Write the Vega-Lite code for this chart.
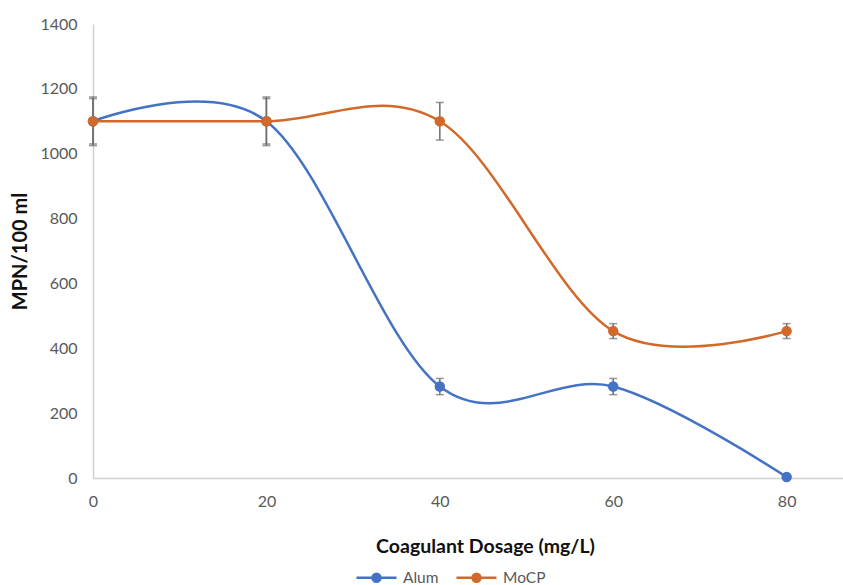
{
  "$schema": "https://vega.github.io/schema/vega-lite/v6.json",
  "width": 750,
  "height": 454,
  "autosize": {"type": "none"},
  "padding": {"left": 93, "top": 24, "right": 0, "bottom": 107},
  "config": {"view": {"stroke": null}, "font": "Lato"},
  "data": {
    "values": [
      {"series": "Alum", "dose": 0, "mpn": 1100, "lo": 1025, "hi": 1175},
      {"series": "Alum", "dose": 20, "mpn": 1100, "lo": 1025, "hi": 1175},
      {"series": "Alum", "dose": 40, "mpn": 282, "lo": 257, "hi": 307},
      {"series": "Alum", "dose": 60, "mpn": 282, "lo": 257, "hi": 307},
      {"series": "Alum", "dose": 80, "mpn": 3, "lo": 3, "hi": 3},
      {"series": "MoCP", "dose": 0, "mpn": 1100, "lo": 1030, "hi": 1170},
      {"series": "MoCP", "dose": 20, "mpn": 1100, "lo": 1030, "hi": 1170},
      {"series": "MoCP", "dose": 40, "mpn": 1100, "lo": 1042, "hi": 1158},
      {"series": "MoCP", "dose": 60, "mpn": 453, "lo": 430, "hi": 476},
      {"series": "MoCP", "dose": 80, "mpn": 453, "lo": 430, "hi": 476}
    ]
  },
  "encoding": {
    "x": {
      "field": "dose",
      "type": "quantitative",
      "scale": {"domain": [0, 86.5], "nice": false, "zero": false},
      "axis": {
        "values": [0, 20, 40, 60, 80],
        "title": "Coagulant Dosage (mg/L)",
        "titleFontSize": 19.5,
        "titleFontWeight": "bold",
        "titleColor": "#111111",
        "titleX": 392,
        "titleY": 74,
        "titleBaseline": "alphabetic",
        "labelFontSize": 16,
        "labelColor": "#595959",
        "labelPadding": 15,
        "labelFlush": false,
        "ticks": false,
        "grid": false,
        "domainColor": "#D0D0D0",
        "domainWidth": 1.5
      }
    }
  },
  "layer": [
    {
      "mark": {"type": "line", "interpolate": "cardinal", "strokeWidth": 2.5},
      "encoding": {
        "y": {
          "field": "mpn",
          "type": "quantitative",
          "scale": {"domain": [0, 1400], "nice": false},
          "axis": {
            "values": [0, 200, 400, 600, 800, 1000, 1200, 1400],
            "format": "d",
            "title": "MPN/100 ml",
            "titleFontSize": 20,
            "titleFontWeight": "bold",
            "titleColor": "#111111",
            "titleX": -73,
            "titleY": 227,
            "titleBaseline": "middle",
            "titleAngle": 270,
            "labelFontSize": 16,
            "labelColor": "#595959",
            "labelPadding": 16,
            "labelFlush": false,
            "ticks": false,
            "grid": false,
            "domainColor": "#D0D0D0",
            "domainWidth": 1.5
          }
        },
        "color": {
          "field": "series",
          "type": "nominal",
          "scale": {"domain": ["Alum", "MoCP"], "range": ["#4472C4", "#D2692A"]},
          "legend": {
            "title": null,
            "orient": "none",
            "direction": "horizontal",
            "legendX": 262,
            "legendY": 532,
            "symbolType": "M-1,0L1,0M-0.2,0A0.2,0.2,0,1,1,0.2,0A0.2,0.2,0,1,1,-0.2,0Z",
            "symbolSize": 1600,
            "symbolStrokeWidth": 2.5,
            "labelFontSize": 15.5,
            "labelColor": "#595959",
            "labelOffset": 5,
            "columnPadding": 12,
            "encode": {
              "symbols": {
                "update": {
                  "stroke": {"scale": "color", "field": "value"},
                  "fill": {"scale": "color", "field": "value"},
                  "opacity": {"value": 1}
                }
              }
            }
          }
        },
        "order": {"field": "dose"}
      }
    },
    {
      "mark": {"type": "rule", "color": "#6E6E6E", "strokeWidth": 1.5},
      "encoding": {
        "y": {"field": "lo", "type": "quantitative"},
        "y2": {"field": "hi"}
      }
    },
    {
      "mark": {"type": "tick", "color": "#6E6E6E", "size": 8, "thickness": 1.5, "orient": "horizontal"},
      "encoding": {"y": {"field": "lo", "type": "quantitative"}}
    },
    {
      "mark": {"type": "tick", "color": "#6E6E6E", "size": 8, "thickness": 1.5, "orient": "horizontal"},
      "encoding": {"y": {"field": "hi", "type": "quantitative"}}
    },
    {
      "mark": {"type": "circle", "size": 110, "opacity": 1},
      "encoding": {
        "y": {"field": "mpn", "type": "quantitative"},
        "color": {"field": "series", "type": "nominal"}
      }
    }
  ]
}
